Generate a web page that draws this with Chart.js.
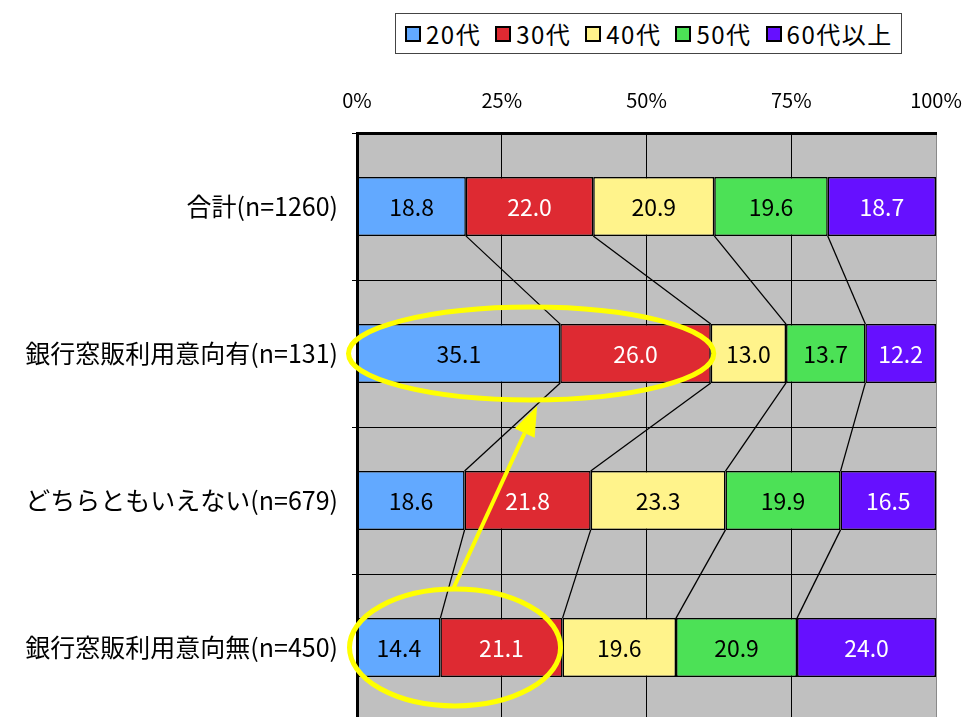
<!DOCTYPE html>
<html lang="ja">
<head>
    <meta charset="UTF-8">
    <title>銀行窓販利用意向別 年代構成</title>
    <script src="https://cdn.jsdelivr.net/npm/chart.js"></script>
    <style>
        body, html {
            margin: 0;
            padding: 0;
            width: 100%;
            height: 100%;
            overflow: hidden;
            background: #fff;
        }
        #ageChart {
            position: absolute;
            left: 0;
            top: 0;
            display: block;
        }
        #legend {
            position: absolute;
            left: 395px;
            top: 13px;
            height: 39px;
            padding: 0 8px 0 9px;
            border: 1px solid #444;
            background: #fff;
            display: flex;
            align-items: center;
            font-family: "Noto Sans CJK JP", sans-serif;
            font-size: 24px;
            letter-spacing: 1.5px;
            color: #000;
            white-space: nowrap;
            z-index: 2;
        }
        .item { display: flex; align-items: center; margin-right: 14px; }
        .item:last-child { margin-right: 0; }
        .sw { width: 12px; height: 12px; border: 2px solid #000; margin-right: 5px; }
    </style>
</head>
<body>
    <canvas id="ageChart" width="964" height="722"></canvas>
    <div id="legend"></div>

    <script>
        const categories = [
            '合計(n=1260)',
            '銀行窓販利用意向有(n=131)',
            'どちらともいえない(n=679)',
            '銀行窓販利用意向無(n=450)'
        ];
        const seriesNames = ['20代', '30代', '40代', '50代', '60代以上'];
        const age20 = [18.8, 35.1, 18.6, 14.4];
        const age30 = [22.0, 26.0, 21.8, 21.1];
        const age40 = [20.9, 13.0, 23.3, 19.6];
        const age50 = [19.6, 13.7, 19.9, 20.9];
        const age60 = [18.7, 12.2, 16.5, 24.0];
        const xTicks = [0, 25, 50, 75, 100];

        const seriesValues = [age20, age30, age40, age50, age60];
        const fillColors = ['#62A9FF', '#DE2A32', '#FFF38B', '#4CE156', '#6610FF'];
        const textColors = ['#000', '#fff', '#000', '#000', '#fff'];
        const FONT = '"Noto Sans CJK JP", sans-serif';

        // 100% stacked: each row scaled to its own total
        const rowTotals = categories.map((c, i) => seriesValues.reduce((s, arr) => s + arr[i], 0));

        const datasets = seriesValues.map((arr, k) => ({
            label: seriesNames[k],
            data: arr.map((v, i) => v / rowTotals[i] * 100),
            raw: arr,
            backgroundColor: fillColors[k],
            borderColor: '#000',
            borderWidth: 1.5,
            borderSkipped: false,
            barPercentage: 0.4,
            categoryPercentage: 1.0
        }));

        // html legend
        const legendEl = document.getElementById('legend');
        seriesNames.forEach((name, k) => {
            const item = document.createElement('div');
            item.className = 'item';
            const sw = document.createElement('span');
            sw.className = 'sw';
            sw.style.background = fillColors[k];
            const txt = document.createElement('span');
            txt.textContent = name;
            item.appendChild(sw);
            item.appendChild(txt);
            legendEl.appendChild(item);
        });

        const plotBackground = {
            id: 'plotBackground',
            beforeDraw(chart) {
                const { ctx, chartArea: a } = chart;
                ctx.save();
                ctx.fillStyle = '#C0C0C0';
                ctx.fillRect(a.left, a.top, a.right - a.left, a.bottom - a.top);
                ctx.restore();
            }
        };

        // Excel style series lines between the bars
        const seriesLines = {
            id: 'seriesLines',
            beforeDatasetsDraw(chart) {
                const ctx = chart.ctx;
                ctx.save();
                ctx.strokeStyle = '#000';
                ctx.lineWidth = 1.3;
                for (let k = 0; k < datasets.length - 1; k++) {
                    const bars = chart.getDatasetMeta(k).data;
                    for (let i = 0; i < bars.length - 1; i++) {
                        const a = bars[i], b = bars[i + 1];
                        ctx.beginPath();
                        ctx.moveTo(a.x, a.y + a.height / 2);
                        ctx.lineTo(b.x, b.y - b.height / 2);
                        ctx.stroke();
                    }
                }
                ctx.restore();
            }
        };

        const valueLabels = {
            id: 'valueLabels',
            afterDatasetsDraw(chart) {
                const ctx = chart.ctx;
                ctx.save();
                ctx.font = '23px ' + FONT;
                ctx.textAlign = 'center';
                ctx.textBaseline = 'middle';
                datasets.forEach((ds, k) => {
                    chart.getDatasetMeta(k).data.forEach((bar, i) => {
                        ctx.fillStyle = textColors[k];
                        ctx.fillText(ds.raw[i].toFixed(1), (bar.x + bar.base) / 2, bar.y + 1);
                    });
                });
                ctx.restore();
            }
        };

        // yellow rings and arrow around the 20代/30代 segments
        function ringAround(chart, idx, padX, padY, shiftX) {
            const first = chart.getDatasetMeta(0).data[idx];
            const second = chart.getDatasetMeta(1).data[idx];
            return {
                cx: (first.base + second.x) / 2 + shiftX,
                cy: first.y,
                rx: (second.x - first.base) / 2 + padX,
                ry: first.height / 2 + padY
            };
        }

        const highlights = {
            id: 'highlights',
            afterDraw(chart) {
                const ctx = chart.ctx;
                const top = ringAround(chart, 1, 6, 17, -3);
                const bottom = ringAround(chart, 3, 3, 29, -5);
                ctx.save();
                ctx.strokeStyle = '#FFFF00';
                ctx.fillStyle = '#FFFF00';
                ctx.lineWidth = 5;
                [top, bottom].forEach(r => {
                    ctx.beginPath();
                    ctx.ellipse(r.cx, r.cy, r.rx, r.ry, 0, 0, Math.PI * 2);
                    ctx.stroke();
                });
                const x0 = bottom.cx - 2, y0 = bottom.cy - bottom.ry;
                const x1 = top.cx + 6, y1 = top.cy + top.ry + 6;
                const ang = Math.atan2(y1 - y0, x1 - x0);
                const headLen = 30, headHalf = 11;
                const bx = x1 - headLen * Math.cos(ang), by = y1 - headLen * Math.sin(ang);
                ctx.lineWidth = 4;
                ctx.beginPath();
                ctx.moveTo(x0, y0);
                ctx.lineTo(bx, by);
                ctx.stroke();
                ctx.beginPath();
                ctx.moveTo(x1, y1);
                ctx.lineTo(bx + headHalf * Math.sin(ang), by - headHalf * Math.cos(ang));
                ctx.lineTo(bx - headHalf * Math.sin(ang), by + headHalf * Math.cos(ang));
                ctx.closePath();
                ctx.fill();
                ctx.restore();
            }
        };

        const ctx = document.getElementById('ageChart').getContext('2d');
        new Chart(ctx, {
            type: 'bar',
            data: { labels: categories, datasets: datasets },
            options: {
                indexAxis: 'y',
                responsive: false,
                maintainAspectRatio: false,
                devicePixelRatio: 1,
                animation: false,
                layout: { padding: { top: 0, right: 28, bottom: 1, left: 0 } },
                scales: {
                    x: {
                        position: 'top',
                        stacked: true,
                        min: 0,
                        max: 100,
                        afterBuildTicks: scale => { scale.ticks = xTicks.map(v => ({ value: v })); },
                        afterFit: scale => {
                            scale.height = 133;
                            scale.paddingLeft = 0;
                            scale.paddingRight = 0;
                        },
                        ticks: {
                            padding: 21,
                            color: '#000',
                            font: { family: FONT, size: 20 },
                            callback: v => v + '%'
                        },
                        grid: {
                            drawTicks: false,
                            lineWidth: 1,
                            color: c => (c.tick && c.tick.value === 100) ? '#8a8a8a' : '#000'
                        },
                        border: { display: true, color: '#000', width: 3 }
                    },
                    y: {
                        stacked: true,
                        offset: true,
                        afterFit: scale => {
                            scale.width = 357;
                            scale.paddingTop = 0;
                            scale.paddingBottom = 0;
                        },
                        ticks: {
                            padding: 14,
                            color: '#000',
                            font: { family: FONT, size: 25 }
                        },
                        grid: {
                            offset: true,
                            drawTicks: true,
                            tickLength: 5,
                            lineWidth: 1,
                            color: '#000'
                        },
                        border: { display: true, color: '#000', width: 3 }
                    }
                },
                plugins: {
                    legend: { display: false },
                    tooltip: { enabled: false }
                }
            },
            plugins: [plotBackground, seriesLines, valueLabels, highlights]
        });
    </script>
</body>
</html>
